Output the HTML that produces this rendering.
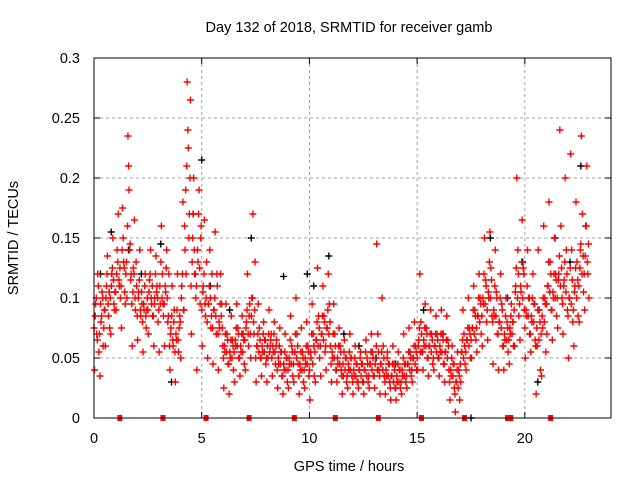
<!DOCTYPE html>
<html><head><meta charset="utf-8">
<style>
html,body{margin:0;padding:0;background:#fff;}
svg{display:block;font-family:"Liberation Sans",sans-serif;}
</style></head>
<body>
<svg id="chart" width="640" height="480" viewBox="0 0 640 480" xmlns="http://www.w3.org/2000/svg">
<text x="349" y="32" font-size="14.5" text-anchor="middle">Day 132 of 2018, SRMTID for receiver gamb</text>
<text x="349" y="471" font-size="14.5" text-anchor="middle">GPS time / hours</text>
<text transform="translate(18,238) rotate(-90)" font-size="14.5" text-anchor="middle">SRMTID / TECUs</text>
<g id="grid"></g>
<g id="ticks"></g>
<g id="marks"></g>
<rect x="94" y="58" width="517" height="360" fill="none" stroke="#000" stroke-width="1"/>
</svg>
<script>
const xTicks=[0,5,10,15,20];
const yTicks=[0,0.05,0.1,0.15,0.2,0.25,0.3];
const yTickLabels=["0","0.05","0.1","0.15","0.2","0.25","0.3"];
const binStarts=[0,0.25,0.5,0.75,1,1.25,1.5,1.75,2,2.25,2.5,2.75,3,3.25,3.5,3.75,4,4.25,4.5,4.75,5,5.25,5.5,5.75,6,6.25,6.5,6.75,7,7.25,7.5,7.75,8,8.25,8.5,8.75,9,9.25,9.5,9.75,10,10.25,10.5,10.75,11,11.25,11.5,11.75,12,12.25,12.5,12.75,13,13.25,13.5,13.75,14,14.25,14.5,14.75,15,15.25,15.5,15.75,16,16.25,16.5,16.75,17,17.25,17.5,17.75,18,18.25,18.5,18.75,19,19.25,19.5,19.75,20,20.25,20.5,20.75,21,21.25,21.5,21.75,22,22.25,22.5,22.75];
const redVals=[
[40,95,70,120,55],[35,80,105,60,90],[60,110,135,85,75],[70,120,150,95,105],[90,140,170,110,100],
[75,175,130,105,120],[100,235,190,145,120],[60,125,165,90,110],[65,105,140,85,95],[55,90,120,75,100],
[70,115,140,95,85],[60,100,135,110,80],[55,95,160,120,85],[60,105,140,80,120],[40,75,110,60,90],
[30,65,120,55,85],[50,110,180,90,140],[120,280,225,170,265],[70,150,200,120,100],[40,130,190,95,160],
[60,110,165,85,130],[50,95,140,75,120],[45,90,155,70,110],[40,75,120,95,60],[25,55,95,70,45],
[20,50,85,65,40],[30,60,95,75,50],[35,55,85,70,45],[40,80,120,60,95],[50,100,170,70,130],
[30,60,95,75,50],[35,55,80,65,45],[30,50,90,60,70],[35,55,80,45,65],[25,45,75,55,35],
[20,40,70,50,30],[25,45,85,60,35],[30,55,100,70,45],[20,40,75,55,30],[25,45,80,60,35],
[15,50,95,70,35],[30,65,125,85,50],[35,70,110,85,55],[40,75,120,95,60],[30,50,95,70,40],
[30,45,75,60,40],[20,35,65,50,30],[25,40,70,50,35],[20,35,60,45,30],[25,40,55,45,30],
[20,40,65,50,30],[25,45,70,55,35],[25,50,145,70,40],[20,45,100,60,35],[20,35,55,45,30],
[15,35,60,45,25],[15,30,55,40,25],[20,35,70,45,30],[25,45,75,55,35],[30,50,80,60,40],
[40,65,120,80,55],[40,60,95,75,50],[35,60,90,70,45],[40,60,85,70,50],[35,55,90,70,45],
[30,55,85,65,40],[15,35,60,45,25],[5,30,55,40,15],[30,55,90,70,45],[40,65,100,75,50],
[50,75,110,90,65],[55,85,120,100,70],[60,95,150,115,80],[65,100,155,125,85],[45,85,140,105,70],
[40,80,120,95,60],[40,65,100,80,55],[45,70,95,80,60],[60,110,200,140,85],[65,105,165,125,90],
[50,85,140,100,70],[55,80,120,95,65],[20,60,140,90,40],[35,75,160,100,55],[70,110,180,130,90],
[65,100,150,120,85],[75,120,240,160,100],[70,115,200,140,90],[50,100,220,140,80],[60,110,180,130,85],
[80,140,235,170,105],[90,160,210,120,100]];
const redVals2=[
[75,85,100,65,110],[70,95,85,100,75],[90,100,120,95,105],[100,110,125,115,90],[105,120,130,115,125],
[110,140,150,125,95],[130,160,210,140,115],[95,105,120,100,130],[85,100,115,90,105],[80,95,110,85,90],
[90,105,120,100,110],[85,95,120,105,100],[90,110,130,100,95],[95,110,125,100,85],[60,70,85,65,80],
[55,70,90,65,75],[80,100,120,90,160],[190,210,240,150,200],[110,130,170,140,120],[110,140,170,125,150],
[90,105,120,95,100],[80,95,110,100,85],[75,90,100,85,120],[70,80,95,85,75],[50,60,70,55,65],
[45,55,65,50,60],[55,65,75,60,70],[50,60,70,55,65],[65,75,90,70,85],[70,85,100,80,90],
[50,60,70,55,65],[50,60,70,55,65],[50,60,70,55,65],[50,60,70,55,60],[40,50,60,45,55],
[35,45,55,40,50],[40,50,65,45,55],[45,55,70,50,60],[35,45,55,40,50],[40,50,60,45,55],
[40,55,70,45,60],[55,65,80,60,75],[60,70,85,65,80],[60,75,90,70,80],[45,55,70,50,60],
[40,50,60,45,55],[35,45,55,40,50],[35,45,55,40,50],[30,40,50,35,45],[30,40,50,35,45],
[30,40,55,35,45],[35,45,55,40,50],[35,45,60,40,55],[35,45,55,40,50],[30,40,50,35,45],
[25,35,45,30,40],[25,35,45,30,40],[30,40,50,35,45],[35,45,55,40,50],[40,50,60,45,55],
[50,60,75,55,70],[55,65,75,60,70],[50,60,70,55,65],[50,60,70,55,65],[50,60,70,55,65],
[45,55,65,50,60],[30,40,50,35,45],[20,30,40,25,35],[45,55,65,50,60],[55,65,75,60,70],
[65,75,90,70,85],[75,85,100,80,95],[85,100,120,95,110],[90,105,130,100,115],[80,90,110,85,100],
[70,80,100,75,90],[60,70,85,65,75],[65,75,85,70,80],[90,105,125,100,120],[95,110,130,100,120],
[75,90,110,85,100],[70,85,100,80,95],[60,75,90,65,80],[70,85,100,80,95],[95,110,130,105,120],
[90,105,120,100,115],[100,115,135,110,125],[95,110,130,105,120],[85,100,125,95,115],[90,105,125,100,115],
[110,125,145,120,135],[120,135,160,130,145]];
const blackT=[0.3,0.8,1.6,2.2,3.1,3.6,4.6,5.0,5.4,6.3,7.3,8.8,9.9,10.2,10.9,11.6,12.3,13.1,14.0,15.3,16.2,17.5,18.4,19.2,19.9,20.6,21.4,22.1,22.6];
const blackV=[0.12,0.155,0.14,0.12,0.145,0.03,0.17,0.215,0.11,0.09,0.15,0.118,0.12,0.11,0.135,0.07,0.06,0.05,0.045,0.09,0.07,0.0,0.15,0.1,0.13,0.03,0.15,0.13,0.21];
const sqT=[1.2,3.2,5.2,7.2,9.3,11.2,13.2,15.2,17.2,19.2,19.35,21.2];

const X=t=>94+t*(517/24);
const Y=v=>418-v*1200;
const NS="http://www.w3.org/2000/svg";
const grid=document.getElementById('grid'),ticks=document.getElementById('ticks'),marks=document.getElementById('marks');
function mk(tag,attrs,parent){const e=document.createElementNS(NS,tag);for(const k in attrs)e.setAttribute(k,attrs[k]);parent.appendChild(e);return e;}
xTicks.forEach(t=>{
  const x=X(t);
  if(t>0){const g=mk('line',{x1:x,y1:58,x2:x,y2:418,stroke:'#a0a0a0','stroke-dasharray':'3,3','stroke-width':1},grid);
  
  }
  mk('line',{x1:x,y1:418,x2:x,y2:412,stroke:'#000'},ticks);
  mk('line',{x1:x,y1:58,x2:x,y2:64,stroke:'#000'},ticks);
  const l=mk('text',{x:x,y:443,'font-size':14.5,'text-anchor':'middle'},ticks);l.textContent=t;
  
  
});
yTicks.forEach((v,i)=>{
  const y=Y(v);
  if(i>0&&i<yTicks.length-1){const g=mk('line',{x1:94,y1:y,x2:611,y2:y,stroke:'#a0a0a0','stroke-dasharray':'3,3','stroke-width':1},grid);
  
  }
  mk('line',{x1:94,y1:y,x2:100,y2:y,stroke:'#000'},ticks);
  mk('line',{x1:611,y1:y,x2:605,y2:y,stroke:'#000'},ticks);
  const l=mk('text',{x:80,y:y+5,'font-size':14.5,'text-anchor':'end'},ticks);l.textContent=yTickLabels[i];
  
  
});
function plus(x,y,c){return mk('path',{d:`M${x-3.5},${y}h7M${x},${y-3.5}v7`,stroke:c,'stroke-width':1.4,fill:'none'},marks);}
blackT.forEach((t,i)=>{const p=plus(X(t),Y(blackV[i]),'#000');
  
  });
function drawRed(arr,shift){
  binStarts.forEach((t,i)=>{
    const vals=arr[i];
    vals.forEach((v,k)=>{
      const tt=t+(k+shift)*0.25/vals.length;
      const p=plus(X(tt),Y(v/1000),'#ff0000');
      
      
    });
  });
}
drawRed(redVals,0.5);
drawRed(redVals2,0.1);
sqT.forEach(t=>{const r=mk('rect',{x:X(t)-2.5,y:415,width:5,height:6,fill:'#ff0000'},marks);
  
  });
</script>
</body></html>
